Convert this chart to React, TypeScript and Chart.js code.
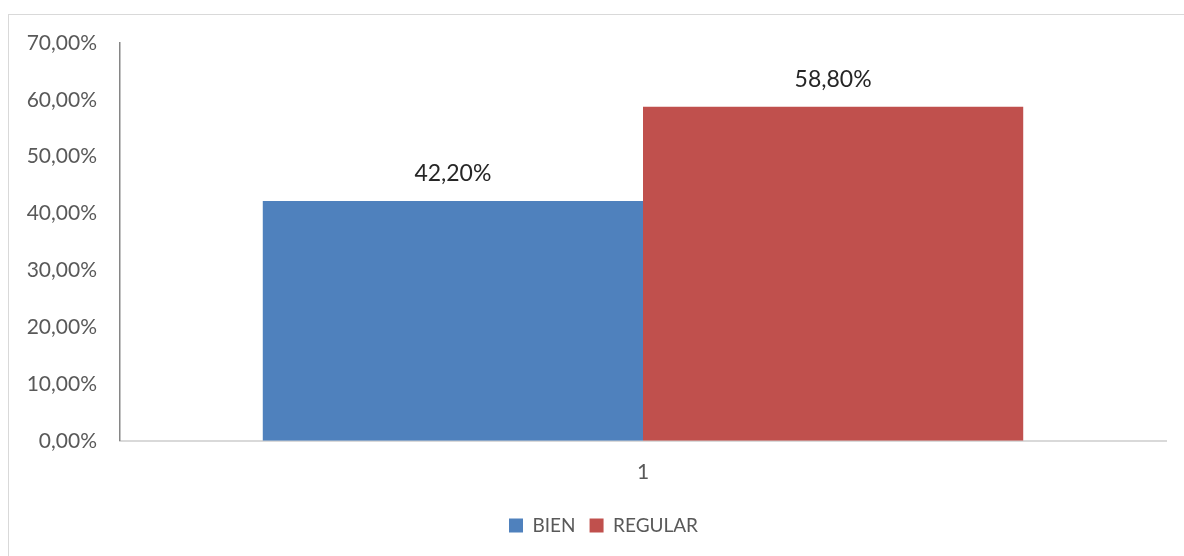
import React, { useEffect, useRef } from "react";
import { Chart, registerables } from "chart.js";

Chart.register(...registerables);

const categories = ["1"];
const seriesNames = ["BIEN", "REGULAR"];
const bienValues = [42.2];
const regularValues = [58.8];
const seriesColors = ["#4f81bd", "#c0504d"];
const yMax = 70;
const yStep = 10;

const FONT = "Lato, 'Open Sans', sans-serif";

const fmt = (v: number) => v.toFixed(2).replace(".", ",") + "%";

const dataLabelPlugin = {
  id: "dataLabels",
  afterDatasetsDraw(chart: any) {
    const ctx = chart.ctx;
    ctx.save();
    ctx.font = `23px ${FONT}`;
    ctx.fillStyle = "#262626";
    ctx.textAlign = "center";
    ctx.textBaseline = "middle";
    chart.data.datasets.forEach((ds: any, i: number) => {
      const meta = chart.getDatasetMeta(i);
      meta.data.forEach((bar: any, j: number) => {
        ctx.fillText(fmt(ds.data[j]), bar.x, bar.y - 27);
      });
    });
    ctx.restore();
  },
};

const legendShiftPlugin = {
  id: "legendShift",
  afterLayout(chart: any) {
    if (chart.legend) {
      chart.legend.left += 16;
      chart.legend.right += 16;
    }
  },
};

export default function App() {
  const ref = useRef<HTMLCanvasElement | null>(null);
  useEffect(() => {
    if (!ref.current) return;
    const chart = new Chart(ref.current, {
      type: "bar",
      data: {
        labels: categories,
        datasets: [
          { label: seriesNames[0], data: bienValues, backgroundColor: seriesColors[0] },
          { label: seriesNames[1], data: regularValues, backgroundColor: seriesColors[1] },
        ],
      },
      options: {
        animation: false,
        responsive: true,
        maintainAspectRatio: false,
        layout: { padding: { top: 28, right: 18, left: 0, bottom: 11 } },
        datasets: { bar: { categoryPercentage: 0.727, barPercentage: 1 } },
        scales: {
          x: {
            grid: { display: false, drawTicks: false },
            border: { display: true, color: "#d9d9d9", width: 2 },
            ticks: { color: "#595959", font: { family: FONT, size: 21 }, padding: 19 },
            afterFit: (scale: any) => {
              scale.height = scale.height - 2;
            },
          },
          y: {
            min: 0,
            max: yMax,
            grid: { display: false, drawTicks: false },
            border: { display: true, color: "#868686", width: 1.5 },
            ticks: {
              stepSize: yStep,
              color: "#595959",
              font: { family: FONT, size: 21 },
              padding: 23,
              callback: (v: any) => fmt(Number(v)),
            },
            afterFit: (scale: any) => {
              scale.width = 111;
              scale.paddingTop = 0;
            },
          },
        },
        plugins: {
          legend: {
            position: "bottom",
            labels: {
              color: "#595959",
              font: { family: FONT, size: 19 },
              boxWidth: 14,
              boxHeight: 14,
              padding: 14,
            },
          },
          tooltip: { enabled: false },
        },
      },
      plugins: [dataLabelPlugin, legendShiftPlugin],
    });
    return () => chart.destroy();
  }, []);

  return (
    <div
      style={{
        position: "fixed",
        left: 8,
        top: 14,
        width: 1190,
        height: 560,
        borderTop: "1px solid #d9d9d9",
        borderLeft: "1px solid #d9d9d9",
        boxSizing: "border-box",
        overflow: "hidden",
      }}
    >
      <div style={{ position: "absolute", left: 0, top: 0, width: 1175, height: 541 }}>
        <canvas ref={ref} />
      </div>
    </div>
  );
}
